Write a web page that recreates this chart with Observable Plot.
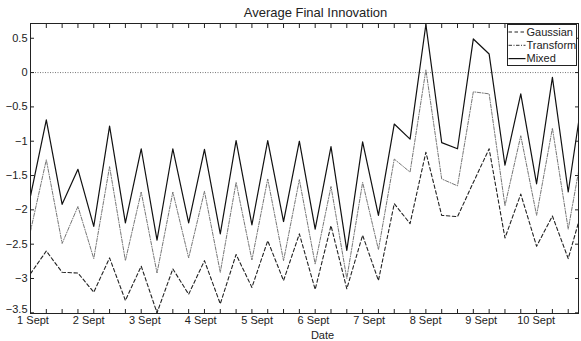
<!DOCTYPE html>
<html><head><meta charset="utf-8">
<script src="https://cdn.jsdelivr.net/npm/d3@7"></script>
<script src="https://cdn.jsdelivr.net/npm/@observablehq/plot@0.6"></script>
<style>
body{margin:0;background:#fff;}
#wrap{position:relative;width:581px;height:341px;font-family:"Liberation Sans",Arial,sans-serif;}
#legend{position:absolute;left:507px;top:24px;}
</style></head><body><div id="wrap"></div>
<script>
const titleText = "Average Final Innovation";
const xLabel = "Date";
const seriesNames = ["Gaussian", "Transform", "Mixed"];
const dateLabels = ["1 Sept","2 Sept","3 Sept","4 Sept","5 Sept","6 Sept","7 Sept","8 Sept","9 Sept","10 Sept"];
const dateTicks = [0.16, 3.68, 7.23, 10.76, 14.33, 17.89, 21.42, 24.98, 28.5, 31.97];
const yTicks = [-3, -2.5, -2, -1.5, -1, -0.5, 0, 0.5];
const yTickBottom = [-3.5];
const gaussian = [-2.93,-2.60,-2.91,-2.92,-3.20,-2.70,-3.32,-2.82,-3.50,-2.86,-3.23,-2.74,-3.37,-2.65,-3.13,-2.45,-3.03,-2.35,-3.16,-2.23,-3.15,-2.37,-3.03,-1.91,-2.20,-1.16,-2.08,-2.10,-1.60,-1.11,-2.41,-1.77,-2.53,-2.09,-2.71,-1.90];
const transform = [-2.31,-1.27,-2.49,-1.95,-2.71,-1.37,-2.74,-1.74,-2.92,-1.74,-2.70,-1.73,-2.91,-1.60,-2.73,-1.55,-2.74,-1.56,-2.79,-1.66,-3.00,-1.60,-2.58,-1.26,-1.45,0.04,-1.55,-1.65,-0.28,-0.31,-1.94,-0.92,-2.08,-0.81,-2.28,-1.00];
const mixed = [-1.80,-0.69,-1.92,-1.41,-2.24,-0.78,-2.19,-1.11,-2.44,-1.11,-2.19,-1.12,-2.35,-0.99,-2.22,-0.99,-2.17,-1.00,-2.28,-1.08,-2.59,-1.01,-2.08,-0.75,-0.97,0.70,-1.02,-1.11,0.49,0.27,-1.35,-0.31,-1.62,-0.07,-1.74,-0.19];

const styles = {
  Gaussian: {stroke: "#222", strokeWidth: 1.1, dash: "3.5,2.5"},
  Transform: {stroke: "#777", strokeWidth: 1, dash: "3.5,1.5,1,1.5"},
  Mixed: {stroke: "#111", strokeWidth: 1.2, dash: null}
};
const seriesValues = {Gaussian: gaussian, Transform: transform, Mixed: mixed};
const stepTicks = d3.range(0, gaussian.length - 1);
const allYTicks = yTickBottom.concat(yTicks);
const fmtY = d => String(d).replace("-", "\u2212");

const lineMarks = seriesNames.map(name => {
  const s = styles[name];
  const rows = seriesValues[name].map((v, i) => ({i, v}));
  return Plot.line(rows, {x: "i", y: "v", stroke: s.stroke, strokeWidth: s.strokeWidth,
    strokeDasharray: s.dash, clip: true});
});

const chart = Plot.plot({
  width: 581, height: 341,
  marginLeft: 30, marginRight: 3, marginTop: 23, marginBottom: 28,
  style: {fontFamily: '"Liberation Sans", Arial, sans-serif', fontSize: "11px", color: "#222", background: "#fff"},
  x: {domain: [0, 34.65], axis: null},
  y: {domain: [-3.51, 0.715], axis: null},
  marks: [
    Plot.ruleY([0], {stroke: "#555", strokeWidth: 0.8, strokeDasharray: "1,1.5"}),
    ...lineMarks,
    Plot.frame({stroke: "#222", strokeWidth: 1}),
    Plot.axisX(stepTicks, {anchor: "bottom", tickSize: -4, tickFormat: () => "", label: null, stroke: "#222"}),
    Plot.axisX(stepTicks, {anchor: "top", tickSize: -4, tickFormat: () => "", label: null, stroke: "#222"}),
    Plot.axisX(dateTicks, {anchor: "bottom", tickSize: 0, tickPadding: 3, tickFormat: (d) => dateLabels[dateTicks.indexOf(d)], label: null, fill: "#222"}),
    Plot.axisY(allYTicks, {anchor: "left", tickSize: -4, tickFormat: () => "", label: null, stroke: "#222"}),
    Plot.axisY(allYTicks, {anchor: "right", tickSize: -4, tickFormat: () => "", label: null, stroke: "#222"}),
    Plot.axisY(yTicks, {anchor: "left", tickSize: 0, tickPadding: 3, tickFormat: fmtY, label: null, fill: "#222"}),
    Plot.axisY(yTickBottom, {anchor: "left", tickSize: 0, tickPadding: 3, tickFormat: fmtY, label: null, fill: "#222", dy: -3}),
    Plot.text([titleText], {frameAnchor: "top", dy: -11, dx: 11, fontSize: 13, lineAnchor: "middle", fill: "#222"}),
    Plot.text([xLabel], {frameAnchor: "bottom", dy: 22, dx: 18, fontSize: 11, lineAnchor: "middle", fill: "#222"})
  ]
});
const wrap = document.getElementById("wrap");
wrap.appendChild(chart);

// legend
const lw = 70, lh = 42;
const leg = d3.select(wrap).append("svg").attr("id", "legend").attr("width", lw).attr("height", lh);
leg.append("rect").attr("x", 0.5).attr("y", 0.5).attr("width", lw - 1).attr("height", lh - 1)
  .attr("fill", "#fff").attr("stroke", "#222");
seriesNames.forEach((name, k) => {
  const s = styles[name];
  const cy = 8 + k * 13.3;
  leg.append("line").attr("x1", 1.5).attr("x2", 18.5).attr("y1", cy).attr("y2", cy)
    .attr("stroke", name === "Transform" ? "#333" : s.stroke).attr("stroke-width", s.strokeWidth)
    .attr("stroke-dasharray", s.dash);
  leg.append("text").attr("x", 19.5).attr("y", cy).attr("dy", "0.35em")
    .attr("font-size", 11).attr("fill", "#222")
    .attr("font-family", '"Liberation Sans", Arial, sans-serif').text(name);
});
</script></body></html>
